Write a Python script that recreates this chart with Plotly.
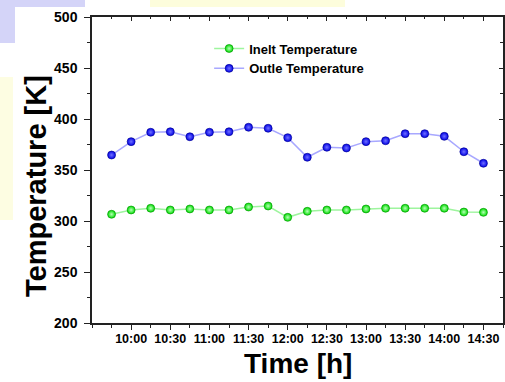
import plotly.graph_objects as go

# ---- data ----
times = ["09:45", "10:00", "10:15", "10:30", "10:45", "11:00", "11:15", "11:30", "11:45", "12:00",
         "12:15", "12:30", "12:45", "13:00", "13:15", "13:30", "13:45", "14:00", "14:15", "14:30"]
inlet_temp = [306.6, 310.8, 312.5, 310.8, 311.8, 310.8, 310.8, 313.7, 314.7, 303.6,
              309.5, 310.8, 310.8, 311.8, 312.5, 312.5, 312.5, 312.5, 308.8, 308.5]
outlet_temp = [364.7, 377.8, 387.0, 387.5, 382.6, 387.0, 387.5, 391.9, 390.9, 381.7,
               362.5, 372.3, 371.6, 377.8, 378.7, 385.6, 385.6, 383.0, 367.9, 356.6]
x_tick_labels = ["10:00", "10:30", "11:00", "11:30", "12:00", "12:30", "13:00", "13:30", "14:00", "14:30"]
x_title = "Time [h]"
y_title = "Temperature [K]"


def to_hours(t):
    h, m = t.split(":")
    return int(h) + int(m) / 60.0


x = [to_hours(t) for t in times]
x_tickvals = [to_hours(t) for t in x_tick_labels]

FONT = "Liberation Sans, Arial, sans-serif"

fig = go.Figure()
fig.add_trace(go.Scatter(
    x=x, y=inlet_temp, mode="lines+markers", name="Inelt Temperature",
    line=dict(color="#9ef59e", width=1.5),
    marker=dict(size=8, color="#00dd00", line=dict(color="#009000", width=0.6),
                gradient=dict(type="radial", color="#b8ffb8")),
))
fig.add_trace(go.Scatter(
    x=x, y=outlet_temp, mode="lines+markers", name="Outle Temperature",
    line=dict(color="#a8a8ff", width=1.5),
    marker=dict(size=8, color="#0000e8", line=dict(color="#00008a", width=0.6),
                gradient=dict(type="radial", color="#7070ff")),
))
# invisible trace to create mirrored (top/right) axes with inward ticks
fig.add_trace(go.Scatter(x=[9.5], y=[200], xaxis="x2", yaxis="y2", mode="markers",
                         marker=dict(opacity=0), showlegend=False, hoverinfo="skip"))

xr = [9.5, 14.75]
yr = [200, 500]
axis_common = dict(showgrid=False, zeroline=False, showline=True, linecolor="#222222", linewidth=1.5,
                   tickcolor="#222222", tickwidth=1.3, automargin=False)

fig.update_layout(
    width=505, height=382,
    margin=dict(l=92, r=2, t=17, b=59),
    paper_bgcolor="white", plot_bgcolor="white",
    font=dict(family=FONT, color="black"),
    showlegend=True,
    legend=dict(x=0.285, y=0.946, xanchor="left", yanchor="top", bgcolor="rgba(0,0,0,0)",
                font=dict(size=13, family=FONT, color="black", weight="bold"),
                tracegroupgap=0, itemwidth=30),
    xaxis=dict(range=xr, tickmode="array", tickvals=x_tickvals, ticktext=x_tick_labels,
               ticks="outside", ticklen=5, ticklabelstandoff=-2,
               minor=dict(tickmode="linear", tick0=9.5, dtick=0.25, ticks="outside", ticklen=3,
                          tickcolor="#222222", tickwidth=1.3),
               tickfont=dict(size=12.5, family=FONT, color="black", weight="bold"),
               **axis_common),
    yaxis=dict(range=yr, tickmode="linear", tick0=200, dtick=50, ticks="outside", ticklen=6,
               ticklabelstandoff=4,
               minor=dict(tickmode="linear", tick0=200, dtick=25, ticks="outside", ticklen=3,
                          tickcolor="#222222", tickwidth=1.3),
               tickfont=dict(size=14, family=FONT, color="black", weight="bold"),
               **axis_common),
    xaxis2=dict(range=xr, overlaying="x", side="top", tickmode="array", tickvals=x_tickvals,
                showticklabels=False, ticks="inside", ticklen=4,
                minor=dict(tickmode="linear", tick0=9.5, dtick=0.25, ticks="inside", ticklen=2,
                           tickcolor="#222222", tickwidth=1.3),
                **axis_common),
    yaxis2=dict(range=yr, overlaying="y", side="right", tickmode="linear", tick0=200, dtick=50,
                showticklabels=False, ticks="inside", ticklen=4,
                minor=dict(tickmode="linear", tick0=200, dtick=25, ticks="inside", ticklen=3,
                           tickcolor="#222222", tickwidth=1.3),
                **axis_common),
)


# pixel -> paper coords helpers (plot area spans x 92..503, y 17..323)
def px(xp):
    return (xp - 92) / 411.0


def py(yp):
    return (323 - yp) / 306.0


# axis titles
fig.add_annotation(text=x_title, xref="paper", yref="paper", x=px(298), y=py(363.5),
                   xanchor="center", yanchor="middle", showarrow=False,
                   font=dict(size=28, family=FONT, color="black", weight="bold"))
fig.add_annotation(text=y_title, xref="paper", yref="paper", x=px(35.5), y=py(186.5),
                   xanchor="center", yanchor="middle", showarrow=False, textangle=-90,
                   font=dict(size=29, family=FONT, color="black", weight="bold"))

# background slide artifacts
shapes = [
    dict(x0=px(0), x1=px(85), y0=py(7), y1=py(0), color="#d4d4f8"),
    dict(x0=px(0), x1=px(15), y0=py(43), y1=py(7), color="#d4d4f8"),
    dict(x0=px(150), x1=px(345), y0=py(7), y1=py(0), color="#fdfddc"),
    dict(x0=px(0), x1=px(13), y0=py(220), y1=py(77), color="#fdfde2"),
]
for s in shapes:
    fig.add_shape(type="rect", xref="paper", yref="paper", x0=s["x0"], x1=s["x1"], y0=s["y0"], y1=s["y1"],
                  fillcolor=s["color"], line=dict(width=0), layer="below")

fig.write_html("out.html", config={"displayModeBar": False},
               post_script="document.body.style.margin='0';")
